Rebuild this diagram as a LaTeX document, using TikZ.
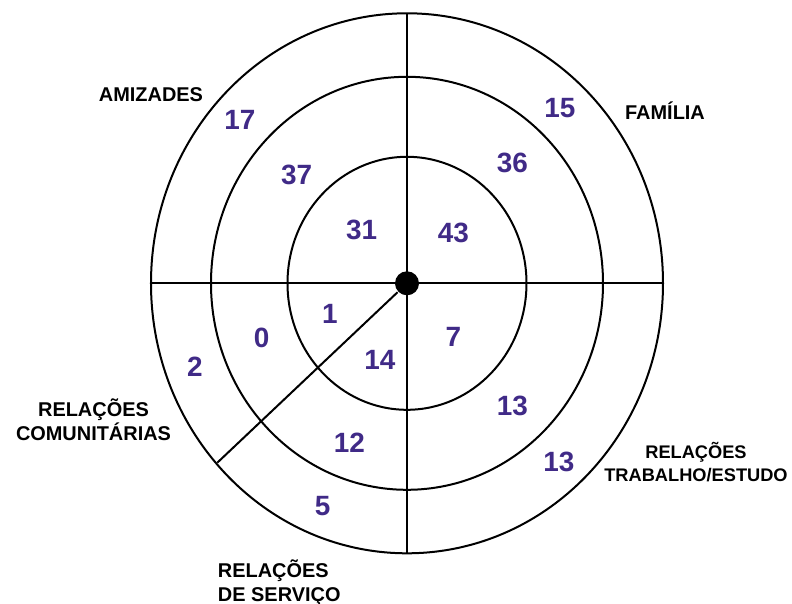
\documentclass[tikz,border=0pt]{standalone}
\usepackage{fontspec}
\setmainfont{Liberation Sans}
\definecolor{numviolet}{RGB}{64,42,135}
\begin{document}
\begin{tikzpicture}[x=1bp,y=1bp,line width=2bp,
  num/.style={font=\fontsize{28}{30}\selectfont\bfseries,text=numviolet,inner sep=0pt},
  lbl/.style={font=\fontsize{20}{24}\selectfont\bfseries,align=center,inner sep=0pt}]
\useasboundingbox (-407,-320.7) rectangle (385,283.3);
% rings
\foreach \rx/\ry in {256/270,196/206.5,119.5/126.5}{
  \draw (0,0) ellipse [x radius=\rx, y radius=\ry];
}
\coordinate (top) at (0,270);
\coordinate (bot) at (0,-271);
\coordinate (lft) at (-256,0);
\coordinate (rgt) at (256,0);
\coordinate (cut) at (-189.7,-179.4);
\draw (top) -- (bot);
\draw (lft) -- (rgt);
\node[circle,fill,minimum size=24bp,inner sep=0pt] (hub) at (0,0) {};
\draw (hub) -- (cut);
% counts
\foreach \t/\x/\y [count=\i] in {17/-167/163.3,37/-110.3/108.3,31/-45.3/53.3,
  15/153/175,36/105.3/120.6,43/46.3/50.6,1/-77/-31,0/-145.3/-54.4,2/-212/-83.4,
  14/-27/-76.7,12/-57.7/-159,5/-84.3/-222.7,7/46.3/-54,13/105.3/-122.4,13/152/-178.4}{
  \node[num] (v\i) at (\x,\y) {\t};
}
% sectors
\node[lbl,anchor=base] (amiz) at (-256,181.6) {AMIZADES};
\node[lbl,anchor=base] (fam) at (258,164) {FAMÍLIA};
\node[lbl] (comun) at (-313.5,-136) {RELAÇÕES\\COMUNITÁRIAS};
\node[lbl,font=\fontsize{18.3}{23}\selectfont\bfseries] (trab) at (289,-178.4) {RELAÇÕES\\TRABALHO/ESTUDO};
\node[lbl,anchor=west,align=left] (serv) at (-190,-299.2) {RELAÇÕES\\DE SERVIÇO};
\end{tikzpicture}
\end{document}
